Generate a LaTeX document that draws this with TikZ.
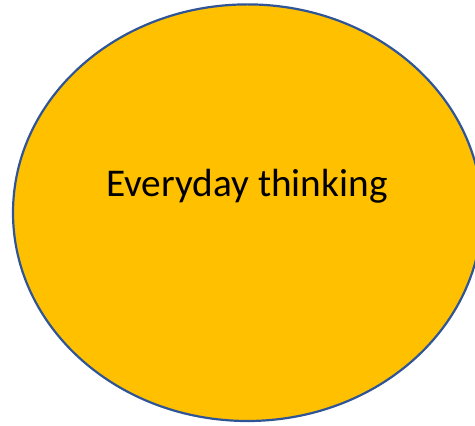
\documentclass[tikz,border=0pt]{standalone}
\usepackage{fontspec}
\setmainfont{Carlito}
\definecolor{fillgold}{HTML}{FFC000}
\definecolor{edgeblue}{HTML}{2F5597}
\begin{document}
\begin{tikzpicture}[x=1pt,y=1pt,
  bubble/.style={draw=edgeblue,fill=fillgold,line width=2.2pt}]
\useasboundingbox (0,0) rectangle (475,426);
\clip (0,0) rectangle (475,426);
\draw[bubble] (247.5,213.3) ellipse [x radius=234.5, y radius=208.3];
\node[anchor=base,inner sep=0pt,font=\fontsize{39.3}{47}\selectfont] (label) at (247,229) {Everyday thinking};
\end{tikzpicture}
\end{document}
